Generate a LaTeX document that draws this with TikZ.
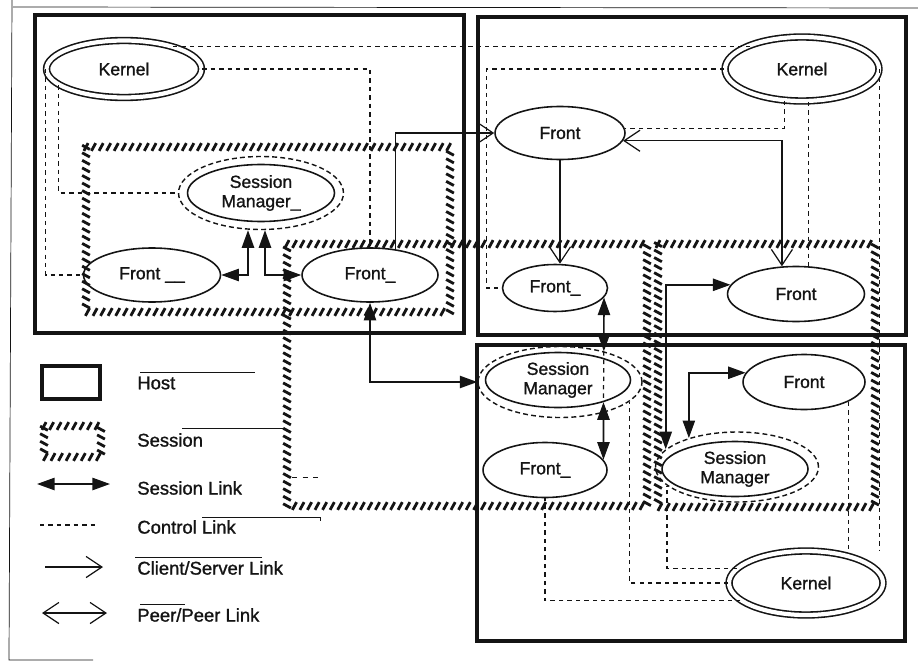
\documentclass[tikz,border=0pt]{standalone}
\usepackage{fontspec}
\setmainfont{Liberation Sans}[FakeBold=1.2]
\usepackage{xcolor}
\definecolor{InkBlack}{RGB}{20,20,20}
\usepackage{tikz}
\usetikzlibrary{shapes.geometric,arrows.meta,decorations.markings}

\begin{document}
\begin{tikzpicture}[
  x=0.02cm,y=-0.02cm,
  host/.style={draw=InkBlack,line width=1.8pt},
  sess/.style={decorate,decoration={markings,
    mark=between positions 0 and 1 step 4.3pt with
    {\draw[InkBlack,line width=1.6pt] (-1.2pt,-2.2pt) -- (1.2pt,2.2pt);}}},
  ell/.style={ellipse,draw=InkBlack,line width=0.9pt,inner sep=0pt,
              minimum width=2.7cm,minimum height=1.08cm,align=center,
              font=\fontsize{10}{11}\selectfont,text=InkBlack},
  kern/.style={ell,double,double distance=2.4pt,minimum width=3.08cm,minimum height=1.28cm},
  ring/.style={ellipse,draw=InkBlack,line width=0.8pt,dash pattern=on 2.8pt off 1.8pt,inner sep=0pt},
  ctl/.style={draw=InkBlack,line width=0.7pt,dash pattern=on 2.5pt off 2.3pt},
  slink/.style={{Triangle[length=10pt,width=7pt]}-{Triangle[length=10pt,width=7pt]},line width=0.9pt,InkBlack},
  cs/.style={-{Straight Barb[length=9pt,width=12pt]},line width=0.7pt,InkBlack},
  pp/.style={{Straight Barb[length=9pt,width=12pt]}-{Straight Barb[length=9pt,width=12pt]},line width=0.7pt,InkBlack},
  lbl/.style={anchor=west,inner sep=0pt,font=\fontsize{10.5}{12}\selectfont,text=InkBlack},
  artf/.style={draw=InkBlack,line width=0.4pt}
]
  \useasboundingbox (0,0) rectangle (918,662);
  \draw[artf] (13,7) -- (918,8);
  \draw[artf] (12,0) -- (9,660) -- (93,660);

  \draw[host] (35,15) rectangle (464,333);
  \draw[host] (478,17) rectangle (906,335);
  \draw[host] (477,345) rectangle (905,641);
  \path[sess] (86,147) -- (450,147) -- (450,312) -- (86,312) -- cycle;
  \path[sess] (287,244) -- (647,244) -- (647,506) -- (287,506) -- cycle;
  \path[sess] (658,244) -- (875,244) -- (875,507) -- (658,507) -- cycle;

  \node[kern,minimum width=3.1cm,minimum height=1.14cm] (k1) at (124,69) {Kernel};
  \node[ell,minimum width=2.94cm,minimum height=1.14cm] (sm1) at (261,193) {Session\\Manager\_};
  \node[ring,minimum width=3.3cm,minimum height=1.46cm] (sm1r) at (sm1) {};
  \node[ell,minimum width=2.74cm] (f1a) at (152,275) {Front \_\_};
  \node[ell,minimum width=2.72cm] (f1b) at (370,275) {Front\_};
  \node[kern] (k2) at (802,69) {Kernel};
  \node[ell,minimum width=2.6cm,minimum height=1.06cm] (f2a) at (560,133) {Front};
  \node[ell,minimum width=2.1cm,minimum height=0.94cm] (f2b) at (555,288) {Front\_};
  \node[ell,minimum width=2.74cm,minimum height=1.1cm] (f2c) at (796,294) {Front};
  \node[ell,minimum width=2.9cm,minimum height=1.1cm] (sm2) at (558,380) {Session\\Manager};
  \node[ring,minimum width=3.28cm,minimum height=1.42cm] (sm2r) at (560,382) {};
  \node[ell,minimum width=2.48cm,minimum height=1.1cm] (f3a) at (545,470) {Front\_};
  \node[ell,minimum width=2.44cm,minimum height=1.1cm] (f3b) at (804,382) {Front};
  \node[ell,minimum width=2.92cm,minimum height=1.1cm] (sm3) at (735,469) {Session\\Manager};
  \node[ring,minimum width=3.26cm,minimum height=1.4cm] (sm3r) at (737,467) {};
  \node[kern] (k3) at (806,583) {Kernel};

  \draw[slink] (f1a.east) -| ([xshift=-0.26cm]sm1r.south);
  \draw[slink] (f1b.west) -| ([xshift=0.08cm]sm1r.south);
  \draw[slink] (f1b.south) |- (sm2r.west);
  \draw[slink] (f2b.-11) -- (sm2r.35); \draw[slink] (sm2.-26) -- (f3a.10);
  \draw[slink] (f2c.172) -| (sm3r.166); \draw[slink] (f3b.171) -| (sm3r.149);
  \draw[cs] (f1b.45) |- (f2a.west);
  \draw[cs] (f2a.south) -- (f2a.south |- f2b.north);
  \draw[pp] (f2a.-7) -| (f2c.117);

  \draw[ctl] (k1.east) -| (f1b.north);
  \draw[ctl] (k1.25) -- (k1.25 -| k2.155);
  \draw[ctl] (k1.west) |- (f1a.west);
  \draw[ctl] (k1.194) |- (sm1r.west);
  \draw[ctl] (k2.-119) |- (f2a.4);
  \draw[ctl] (k2.west) -| ([xshift=-0.3cm]f2b.west) -- (f2b.west);
  \draw[ctl] (f2c.66 |- k2.south) -- (f2c.66);
  \draw[ctl] (k2.east) -- (k2.east |- k3.north);
  \draw[ctl] (sm2r.35) -- (sm2.-26);
  \draw[ctl] (k3.195) -| (f3a.south);
  \draw[ctl] (k3.west) -| (sm2r.-16);
  \draw[ctl] (k3.168) -| (sm3r.195);
  \draw[ctl] (f3b.-24) -- (f3b.-24 |- k3.north);

  \draw[host] (42,366) rectangle (100,399);
  \path[sess] (44,426) -- (101,426) -- (101,457) -- (44,457) -- cycle;
  \coordinate (sl1) at (37,484); \coordinate (sl2) at (110,484);
  \coordinate (cl1) at (40,525); \coordinate (cl2) at (98,525);
  \coordinate (cs1) at (45,567); \coordinate (cs2) at (103,567);
  \coordinate (pp1) at (42,613); \coordinate (pp2) at (107,613);
  \draw[slink] (sl1) -- (sl2); \draw[ctl] (cl1) -- (cl2);
  \draw[cs] (cs1) -- (cs2); \draw[pp] (pp1) -- (pp2);
  \node[lbl] (thost) at (137,383) {Host};
  \node[lbl] (tsess) at (137,440) {Session};
  \node[lbl] (tslink) at (137,488) {Session Link};
  \node[lbl] (tctl) at (137,527) {Control Link};
  \node[lbl] (tcs) at (137,568) {Client/Server Link};
  \node[lbl] (tpp) at (137,615) {Peer/Peer Link};
  \draw[artf] (140,372) -- (255,372);
  \draw[artf] (182,428) -- (285,428);
  \draw[artf,dashed] (292,477) -- (322,477);
  \draw[artf] (202,517) -- (320,517) -- (320,521);
  \draw[artf] (135,557) -- (262,557);
  \draw[artf] (140,604) -- (185,604);
\end{tikzpicture}
\end{document}
